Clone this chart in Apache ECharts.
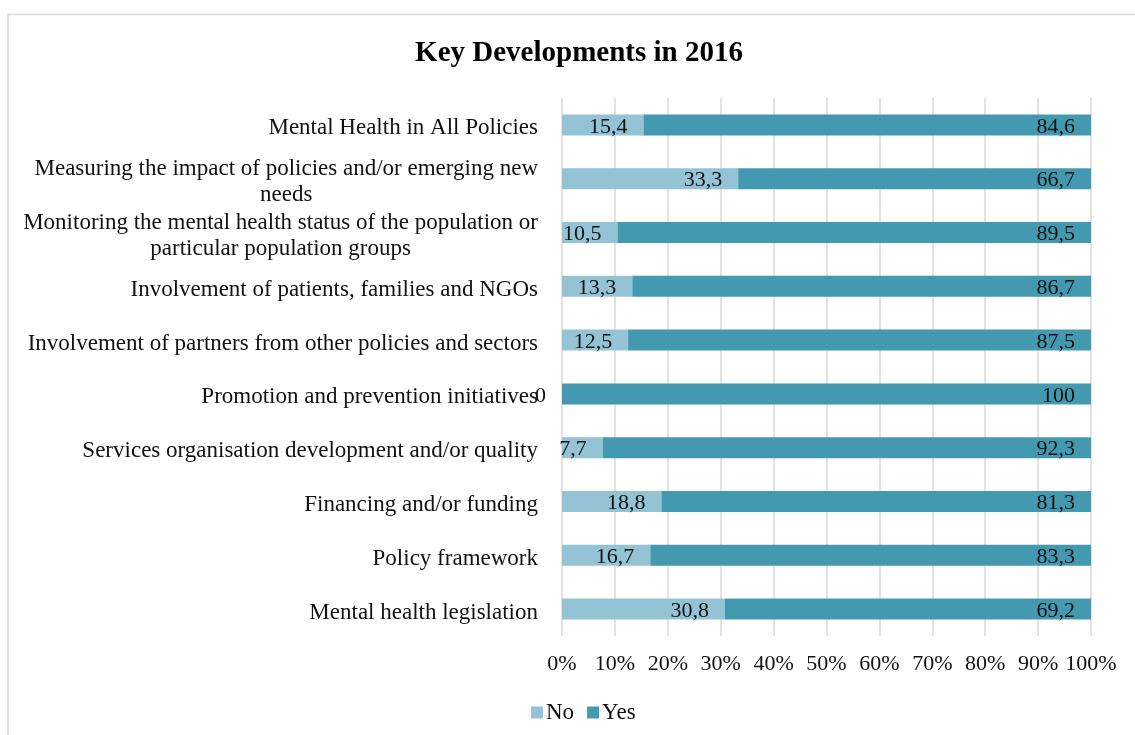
<!DOCTYPE html>
<html>
<head>
<meta charset="utf-8">
<script src="https://cdn.jsdelivr.net/npm/echarts@6/dist/echarts.min.js"></script>
<style>
  html, body { margin: 0; padding: 0; background: #fff; }
  #chart { width: 1135px; height: 735px; }
</style>
</head>
<body>
<div id="chart"></div>
<script>
// Categories, top to bottom (line breaks mark wrapped labels)
const categories = [
  'Mental Health in All Policies',
  'Measuring the impact of policies and/or emerging new\nneeds',
  'Monitoring the mental health status of the population or\nparticular population groups',
  'Involvement of patients, families and NGOs',
  'Involvement of partners from other policies and sectors',
  'Promotion and prevention initiatives',
  'Services organisation development and/or quality',
  'Financing and/or funding',
  'Policy framework',
  'Mental health legislation'
];
// Share of answers (%)
const noValues  = [15.4, 33.3, 10.5, 13.3, 12.5, 0, 7.7, 18.8, 16.7, 30.8];
const yesValues = [84.6, 66.7, 89.5, 86.7, 87.5, 100, 92.3, 81.3, 83.3, 69.2];
const seriesNames = ['No', 'Yes'];
const tickLabels = ['0%', '10%', '20%', '30%', '40%', '50%', '60%', '70%', '80%', '90%', '100%'];

const FONT = '"Liberation Serif", "DejaVu Serif", serif';
const TEXT = '#111';

function fmtValue(p) {
  return String(p.value).replace('.', ',');
}

function catLabel(v) {
  if (v.indexOf('\n') < 0) return v;
  return v.split('\n').map(s => '{c|' + s + '}').join('\n');
}

const chart = echarts.init(document.getElementById('chart'), null, { renderer: 'canvas' });

const valueLabel = {
  show: true,
  position: 'insideRight',
  distance: 16,
  offset: [0, 2],
  fontFamily: FONT,
  fontSize: 22,
  color: TEXT,
  formatter: fmtValue
};

chart.setOption({
  animation: false,
  backgroundColor: '#fff',
  title: {
    text: 'Key Developments in 2016',
    left: 574,
    top: 34,
    textAlign: 'center',
    textStyle: { fontFamily: FONT, fontSize: 29, fontWeight: 'bold', color: '#000' }
  },
  legend: {
    bottom: 6,
    left: 526,
    itemWidth: 12,
    itemHeight: 12,
    itemGap: 13,
    icon: 'rect',
    textStyle: { fontFamily: FONT, fontSize: 23, color: TEXT, padding: [0, 0, 0, -2] },
    data: seriesNames
  },
  graphic: [{
    type: 'rect',
    silent: true,
    shape: { x: 8, y: 14.5, width: 1140, height: 740 },
    style: { fill: 'none', stroke: '#d9d9d9', lineWidth: 1.5 }
  }],
  grid: { left: 562, right: 44, top: 98, bottom: 99, containLabel: false },
  xAxis: {
    type: 'value',
    min: 0,
    max: 100,
    interval: 10,
    axisLine: { show: false },
    axisTick: { show: false },
    splitLine: { show: true, lineStyle: { color: '#d9d9d9', width: 1.5 } },
    axisLabel: {
      margin: 17,
      fontFamily: FONT,
      fontSize: 22,
      color: TEXT,
      formatter: (v) => tickLabels[Math.round(v / 10)]
    }
  },
  yAxis: {
    type: 'category',
    inverse: true,
    data: categories,
    axisLine: { show: false },
    axisTick: { show: false },
    axisLabel: {
      margin: 24,
      fontFamily: FONT,
      fontSize: 23,
      color: TEXT,
      lineHeight: 26,
      padding: [7, 0, 0, 0],
      formatter: catLabel,
      rich: { c: { fontFamily: FONT, fontSize: 23, color: TEXT, lineHeight: 26, align: 'center' } }
    }
  },
  series: [
    {
      name: seriesNames[0],
      type: 'bar',
      stack: 'total',
      barWidth: 21,
      data: noValues,
      itemStyle: { color: '#93c3d4' },
      label: valueLabel
    },
    {
      name: seriesNames[1],
      type: 'bar',
      stack: 'total',
      barWidth: 21,
      data: yesValues,
      itemStyle: { color: '#4399b0' },
      label: valueLabel
    }
  ]
});
</script>
</body>
</html>
